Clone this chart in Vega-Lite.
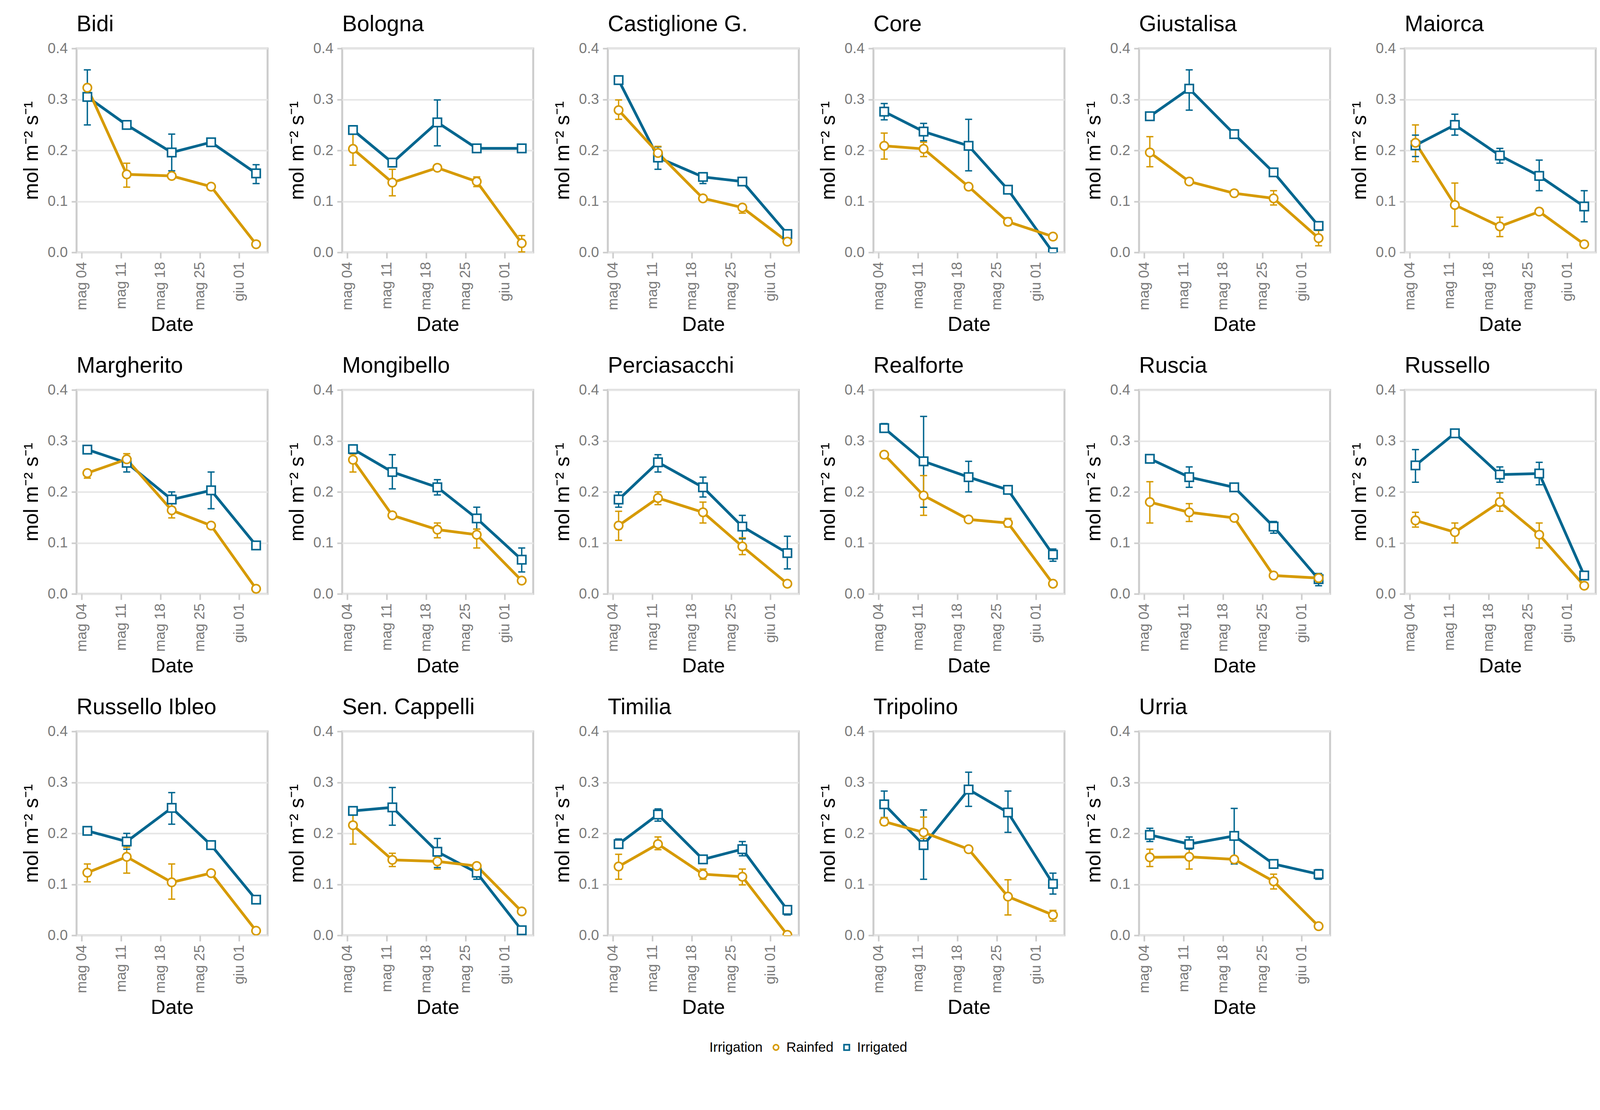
{
  "$schema": "https://vega.github.io/schema/vega-lite/v6.json",
  "background": "white",
  "padding": {"left": 52, "top": 31, "right": 20, "bottom": 12},
  "data": {"values": [
    {"c":"Bidi","t":"Irrigated","d":"2023-05-05","v":0.305,"lo":0.250,"hi":0.358},
    {"c":"Bidi","t":"Irrigated","d":"2023-05-12","v":0.250,"lo":0.246,"hi":0.254},
    {"c":"Bidi","t":"Irrigated","d":"2023-05-20","v":0.196,"lo":0.160,"hi":0.232},
    {"c":"Bidi","t":"Irrigated","d":"2023-05-27","v":0.216,"lo":0.212,"hi":0.220},
    {"c":"Bidi","t":"Irrigated","d":"2023-06-04","v":0.155,"lo":0.135,"hi":0.172},
    {"c":"Bidi","t":"Rainfed","d":"2023-05-05","v":0.323,"lo":0.319,"hi":0.327},
    {"c":"Bidi","t":"Rainfed","d":"2023-05-12","v":0.153,"lo":0.128,"hi":0.175},
    {"c":"Bidi","t":"Rainfed","d":"2023-05-20","v":0.150,"lo":0.146,"hi":0.154},
    {"c":"Bidi","t":"Rainfed","d":"2023-05-27","v":0.129,"lo":0.126,"hi":0.132},
    {"c":"Bidi","t":"Rainfed","d":"2023-06-04","v":0.016,"lo":0.013,"hi":0.019},

    {"c":"Bologna","t":"Irrigated","d":"2023-05-05","v":0.240,"lo":0.236,"hi":0.244},
    {"c":"Bologna","t":"Irrigated","d":"2023-05-12","v":0.176,"lo":0.172,"hi":0.180},
    {"c":"Bologna","t":"Irrigated","d":"2023-05-20","v":0.255,"lo":0.209,"hi":0.299},
    {"c":"Bologna","t":"Irrigated","d":"2023-05-27","v":0.204,"lo":0.201,"hi":0.207},
    {"c":"Bologna","t":"Irrigated","d":"2023-06-04","v":0.204,"lo":0.201,"hi":0.207},
    {"c":"Bologna","t":"Rainfed","d":"2023-05-05","v":0.203,"lo":0.171,"hi":0.233},
    {"c":"Bologna","t":"Rainfed","d":"2023-05-12","v":0.137,"lo":0.111,"hi":0.163},
    {"c":"Bologna","t":"Rainfed","d":"2023-05-20","v":0.166,"lo":0.163,"hi":0.169},
    {"c":"Bologna","t":"Rainfed","d":"2023-05-27","v":0.139,"lo":0.129,"hi":0.148},
    {"c":"Bologna","t":"Rainfed","d":"2023-06-04","v":0.018,"lo":0.001,"hi":0.033},

    {"c":"Castiglione G.","t":"Irrigated","d":"2023-05-05","v":0.338,"lo":0.335,"hi":0.341},
    {"c":"Castiglione G.","t":"Irrigated","d":"2023-05-12","v":0.186,"lo":0.163,"hi":0.207},
    {"c":"Castiglione G.","t":"Irrigated","d":"2023-05-20","v":0.148,"lo":0.135,"hi":0.156},
    {"c":"Castiglione G.","t":"Irrigated","d":"2023-05-27","v":0.139,"lo":0.136,"hi":0.142},
    {"c":"Castiglione G.","t":"Irrigated","d":"2023-06-04","v":0.036,"lo":0.033,"hi":0.039},
    {"c":"Castiglione G.","t":"Rainfed","d":"2023-05-05","v":0.279,"lo":0.261,"hi":0.299},
    {"c":"Castiglione G.","t":"Rainfed","d":"2023-05-12","v":0.195,"lo":0.188,"hi":0.208},
    {"c":"Castiglione G.","t":"Rainfed","d":"2023-05-20","v":0.106,"lo":0.103,"hi":0.109},
    {"c":"Castiglione G.","t":"Rainfed","d":"2023-05-27","v":0.088,"lo":0.077,"hi":0.094},
    {"c":"Castiglione G.","t":"Rainfed","d":"2023-06-04","v":0.021,"lo":0.018,"hi":0.024},

    {"c":"Core","t":"Irrigated","d":"2023-05-05","v":0.276,"lo":0.260,"hi":0.292},
    {"c":"Core","t":"Irrigated","d":"2023-05-12","v":0.237,"lo":0.219,"hi":0.253},
    {"c":"Core","t":"Irrigated","d":"2023-05-20","v":0.209,"lo":0.160,"hi":0.261},
    {"c":"Core","t":"Irrigated","d":"2023-05-27","v":0.123,"lo":0.120,"hi":0.126},
    {"c":"Core","t":"Irrigated","d":"2023-06-04","v":0.000,"lo":0.000,"hi":0.003},
    {"c":"Core","t":"Rainfed","d":"2023-05-05","v":0.209,"lo":0.183,"hi":0.234},
    {"c":"Core","t":"Rainfed","d":"2023-05-12","v":0.203,"lo":0.188,"hi":0.216},
    {"c":"Core","t":"Rainfed","d":"2023-05-20","v":0.129,"lo":0.126,"hi":0.132},
    {"c":"Core","t":"Rainfed","d":"2023-05-27","v":0.060,"lo":0.053,"hi":0.068},
    {"c":"Core","t":"Rainfed","d":"2023-06-04","v":0.031,"lo":0.028,"hi":0.034},

    {"c":"Giustalisa","t":"Irrigated","d":"2023-05-05","v":0.267,"lo":0.264,"hi":0.270},
    {"c":"Giustalisa","t":"Irrigated","d":"2023-05-12","v":0.321,"lo":0.279,"hi":0.358},
    {"c":"Giustalisa","t":"Irrigated","d":"2023-05-20","v":0.232,"lo":0.228,"hi":0.236},
    {"c":"Giustalisa","t":"Irrigated","d":"2023-05-27","v":0.157,"lo":0.154,"hi":0.160},
    {"c":"Giustalisa","t":"Irrigated","d":"2023-06-04","v":0.052,"lo":0.049,"hi":0.055},
    {"c":"Giustalisa","t":"Rainfed","d":"2023-05-05","v":0.196,"lo":0.168,"hi":0.227},
    {"c":"Giustalisa","t":"Rainfed","d":"2023-05-12","v":0.139,"lo":0.136,"hi":0.142},
    {"c":"Giustalisa","t":"Rainfed","d":"2023-05-20","v":0.116,"lo":0.113,"hi":0.119},
    {"c":"Giustalisa","t":"Rainfed","d":"2023-05-27","v":0.106,"lo":0.093,"hi":0.121},
    {"c":"Giustalisa","t":"Rainfed","d":"2023-06-04","v":0.028,"lo":0.013,"hi":0.043},

    {"c":"Maiorca","t":"Irrigated","d":"2023-05-05","v":0.210,"lo":0.188,"hi":0.230},
    {"c":"Maiorca","t":"Irrigated","d":"2023-05-12","v":0.250,"lo":0.230,"hi":0.271},
    {"c":"Maiorca","t":"Irrigated","d":"2023-05-20","v":0.190,"lo":0.175,"hi":0.204},
    {"c":"Maiorca","t":"Irrigated","d":"2023-05-27","v":0.150,"lo":0.121,"hi":0.181},
    {"c":"Maiorca","t":"Irrigated","d":"2023-06-04","v":0.090,"lo":0.060,"hi":0.121},
    {"c":"Maiorca","t":"Rainfed","d":"2023-05-05","v":0.215,"lo":0.178,"hi":0.250},
    {"c":"Maiorca","t":"Rainfed","d":"2023-05-12","v":0.093,"lo":0.051,"hi":0.136},
    {"c":"Maiorca","t":"Rainfed","d":"2023-05-20","v":0.051,"lo":0.031,"hi":0.069},
    {"c":"Maiorca","t":"Rainfed","d":"2023-05-27","v":0.080,"lo":0.077,"hi":0.083},
    {"c":"Maiorca","t":"Rainfed","d":"2023-06-04","v":0.016,"lo":0.013,"hi":0.019},

    {"c":"Margherito","t":"Irrigated","d":"2023-05-05","v":0.283,"lo":0.280,"hi":0.286},
    {"c":"Margherito","t":"Irrigated","d":"2023-05-12","v":0.257,"lo":0.239,"hi":0.270},
    {"c":"Margherito","t":"Irrigated","d":"2023-05-20","v":0.185,"lo":0.170,"hi":0.200},
    {"c":"Margherito","t":"Irrigated","d":"2023-05-27","v":0.203,"lo":0.167,"hi":0.239},
    {"c":"Margherito","t":"Irrigated","d":"2023-06-04","v":0.095,"lo":0.092,"hi":0.098},
    {"c":"Margherito","t":"Rainfed","d":"2023-05-05","v":0.237,"lo":0.227,"hi":0.243},
    {"c":"Margherito","t":"Rainfed","d":"2023-05-12","v":0.264,"lo":0.254,"hi":0.275},
    {"c":"Margherito","t":"Rainfed","d":"2023-05-20","v":0.164,"lo":0.149,"hi":0.177},
    {"c":"Margherito","t":"Rainfed","d":"2023-05-27","v":0.134,"lo":0.131,"hi":0.137},
    {"c":"Margherito","t":"Rainfed","d":"2023-06-04","v":0.010,"lo":0.007,"hi":0.013},

    {"c":"Mongibello","t":"Irrigated","d":"2023-05-05","v":0.284,"lo":0.281,"hi":0.287},
    {"c":"Mongibello","t":"Irrigated","d":"2023-05-12","v":0.239,"lo":0.206,"hi":0.273},
    {"c":"Mongibello","t":"Irrigated","d":"2023-05-20","v":0.209,"lo":0.194,"hi":0.224},
    {"c":"Mongibello","t":"Irrigated","d":"2023-05-27","v":0.148,"lo":0.127,"hi":0.170},
    {"c":"Mongibello","t":"Irrigated","d":"2023-06-04","v":0.067,"lo":0.043,"hi":0.090},
    {"c":"Mongibello","t":"Rainfed","d":"2023-05-05","v":0.263,"lo":0.239,"hi":0.274},
    {"c":"Mongibello","t":"Rainfed","d":"2023-05-12","v":0.154,"lo":0.151,"hi":0.157},
    {"c":"Mongibello","t":"Rainfed","d":"2023-05-20","v":0.126,"lo":0.110,"hi":0.139},
    {"c":"Mongibello","t":"Rainfed","d":"2023-05-27","v":0.116,"lo":0.090,"hi":0.127},
    {"c":"Mongibello","t":"Rainfed","d":"2023-06-04","v":0.026,"lo":0.023,"hi":0.029},

    {"c":"Perciasacchi","t":"Irrigated","d":"2023-05-05","v":0.185,"lo":0.170,"hi":0.200},
    {"c":"Perciasacchi","t":"Irrigated","d":"2023-05-12","v":0.258,"lo":0.239,"hi":0.273},
    {"c":"Perciasacchi","t":"Irrigated","d":"2023-05-20","v":0.209,"lo":0.190,"hi":0.229},
    {"c":"Perciasacchi","t":"Irrigated","d":"2023-05-27","v":0.132,"lo":0.108,"hi":0.154},
    {"c":"Perciasacchi","t":"Irrigated","d":"2023-06-04","v":0.080,"lo":0.049,"hi":0.113},
    {"c":"Perciasacchi","t":"Rainfed","d":"2023-05-05","v":0.134,"lo":0.105,"hi":0.162},
    {"c":"Perciasacchi","t":"Rainfed","d":"2023-05-12","v":0.188,"lo":0.175,"hi":0.200},
    {"c":"Perciasacchi","t":"Rainfed","d":"2023-05-20","v":0.160,"lo":0.139,"hi":0.180},
    {"c":"Perciasacchi","t":"Rainfed","d":"2023-05-27","v":0.093,"lo":0.077,"hi":0.110},
    {"c":"Perciasacchi","t":"Rainfed","d":"2023-06-04","v":0.020,"lo":0.017,"hi":0.023},

    {"c":"Realforte","t":"Irrigated","d":"2023-05-05","v":0.325,"lo":0.317,"hi":0.334},
    {"c":"Realforte","t":"Irrigated","d":"2023-05-12","v":0.260,"lo":0.170,"hi":0.348},
    {"c":"Realforte","t":"Irrigated","d":"2023-05-20","v":0.229,"lo":0.200,"hi":0.260},
    {"c":"Realforte","t":"Irrigated","d":"2023-05-27","v":0.204,"lo":0.201,"hi":0.207},
    {"c":"Realforte","t":"Irrigated","d":"2023-06-04","v":0.077,"lo":0.064,"hi":0.088},
    {"c":"Realforte","t":"Rainfed","d":"2023-05-05","v":0.273,"lo":0.270,"hi":0.276},
    {"c":"Realforte","t":"Rainfed","d":"2023-05-12","v":0.193,"lo":0.154,"hi":0.232},
    {"c":"Realforte","t":"Rainfed","d":"2023-05-20","v":0.146,"lo":0.143,"hi":0.149},
    {"c":"Realforte","t":"Rainfed","d":"2023-05-27","v":0.139,"lo":0.131,"hi":0.148},
    {"c":"Realforte","t":"Rainfed","d":"2023-06-04","v":0.020,"lo":0.017,"hi":0.023},

    {"c":"Ruscia","t":"Irrigated","d":"2023-05-05","v":0.265,"lo":0.262,"hi":0.268},
    {"c":"Ruscia","t":"Irrigated","d":"2023-05-12","v":0.229,"lo":0.209,"hi":0.249},
    {"c":"Ruscia","t":"Irrigated","d":"2023-05-20","v":0.209,"lo":0.205,"hi":0.213},
    {"c":"Ruscia","t":"Irrigated","d":"2023-05-27","v":0.132,"lo":0.119,"hi":0.142},
    {"c":"Ruscia","t":"Irrigated","d":"2023-06-04","v":0.029,"lo":0.016,"hi":0.040},
    {"c":"Ruscia","t":"Rainfed","d":"2023-05-05","v":0.180,"lo":0.139,"hi":0.220},
    {"c":"Ruscia","t":"Rainfed","d":"2023-05-12","v":0.160,"lo":0.142,"hi":0.177},
    {"c":"Ruscia","t":"Rainfed","d":"2023-05-20","v":0.149,"lo":0.146,"hi":0.152},
    {"c":"Ruscia","t":"Rainfed","d":"2023-05-27","v":0.036,"lo":0.033,"hi":0.039},
    {"c":"Ruscia","t":"Rainfed","d":"2023-06-04","v":0.031,"lo":0.028,"hi":0.034},

    {"c":"Russello","t":"Irrigated","d":"2023-05-05","v":0.252,"lo":0.219,"hi":0.283},
    {"c":"Russello","t":"Irrigated","d":"2023-05-12","v":0.315,"lo":0.312,"hi":0.318},
    {"c":"Russello","t":"Irrigated","d":"2023-05-20","v":0.234,"lo":0.219,"hi":0.249},
    {"c":"Russello","t":"Irrigated","d":"2023-05-27","v":0.236,"lo":0.214,"hi":0.258},
    {"c":"Russello","t":"Irrigated","d":"2023-06-04","v":0.036,"lo":0.033,"hi":0.039},
    {"c":"Russello","t":"Rainfed","d":"2023-05-05","v":0.144,"lo":0.131,"hi":0.160},
    {"c":"Russello","t":"Rainfed","d":"2023-05-12","v":0.121,"lo":0.100,"hi":0.139},
    {"c":"Russello","t":"Rainfed","d":"2023-05-20","v":0.180,"lo":0.162,"hi":0.198},
    {"c":"Russello","t":"Rainfed","d":"2023-05-27","v":0.116,"lo":0.090,"hi":0.139},
    {"c":"Russello","t":"Rainfed","d":"2023-06-04","v":0.016,"lo":0.013,"hi":0.019},

    {"c":"Russello Ibleo","t":"Irrigated","d":"2023-05-05","v":0.205,"lo":0.202,"hi":0.208},
    {"c":"Russello Ibleo","t":"Irrigated","d":"2023-05-12","v":0.184,"lo":0.169,"hi":0.200},
    {"c":"Russello Ibleo","t":"Irrigated","d":"2023-05-20","v":0.250,"lo":0.218,"hi":0.280},
    {"c":"Russello Ibleo","t":"Irrigated","d":"2023-05-27","v":0.177,"lo":0.174,"hi":0.180},
    {"c":"Russello Ibleo","t":"Irrigated","d":"2023-06-04","v":0.070,"lo":0.066,"hi":0.074},
    {"c":"Russello Ibleo","t":"Rainfed","d":"2023-05-05","v":0.123,"lo":0.105,"hi":0.140},
    {"c":"Russello Ibleo","t":"Rainfed","d":"2023-05-12","v":0.154,"lo":0.122,"hi":0.173},
    {"c":"Russello Ibleo","t":"Rainfed","d":"2023-05-20","v":0.104,"lo":0.071,"hi":0.140},
    {"c":"Russello Ibleo","t":"Rainfed","d":"2023-05-27","v":0.122,"lo":0.118,"hi":0.126},
    {"c":"Russello Ibleo","t":"Rainfed","d":"2023-06-04","v":0.009,"lo":0.006,"hi":0.012},

    {"c":"Sen. Cappelli","t":"Irrigated","d":"2023-05-05","v":0.244,"lo":0.241,"hi":0.247},
    {"c":"Sen. Cappelli","t":"Irrigated","d":"2023-05-12","v":0.251,"lo":0.216,"hi":0.290},
    {"c":"Sen. Cappelli","t":"Irrigated","d":"2023-05-20","v":0.164,"lo":0.133,"hi":0.190},
    {"c":"Sen. Cappelli","t":"Irrigated","d":"2023-05-27","v":0.123,"lo":0.110,"hi":0.134},
    {"c":"Sen. Cappelli","t":"Irrigated","d":"2023-06-04","v":0.010,"lo":0.007,"hi":0.013},
    {"c":"Sen. Cappelli","t":"Rainfed","d":"2023-05-05","v":0.216,"lo":0.179,"hi":0.237},
    {"c":"Sen. Cappelli","t":"Rainfed","d":"2023-05-12","v":0.148,"lo":0.135,"hi":0.161},
    {"c":"Sen. Cappelli","t":"Rainfed","d":"2023-05-20","v":0.145,"lo":0.130,"hi":0.155},
    {"c":"Sen. Cappelli","t":"Rainfed","d":"2023-05-27","v":0.136,"lo":0.133,"hi":0.139},
    {"c":"Sen. Cappelli","t":"Rainfed","d":"2023-06-04","v":0.047,"lo":0.044,"hi":0.050},

    {"c":"Timilia","t":"Irrigated","d":"2023-05-05","v":0.179,"lo":0.172,"hi":0.189},
    {"c":"Timilia","t":"Irrigated","d":"2023-05-12","v":0.237,"lo":0.224,"hi":0.248},
    {"c":"Timilia","t":"Irrigated","d":"2023-05-20","v":0.149,"lo":0.146,"hi":0.152},
    {"c":"Timilia","t":"Irrigated","d":"2023-05-27","v":0.169,"lo":0.156,"hi":0.184},
    {"c":"Timilia","t":"Irrigated","d":"2023-06-04","v":0.050,"lo":0.040,"hi":0.058},
    {"c":"Timilia","t":"Rainfed","d":"2023-05-05","v":0.135,"lo":0.110,"hi":0.159},
    {"c":"Timilia","t":"Rainfed","d":"2023-05-12","v":0.179,"lo":0.168,"hi":0.193},
    {"c":"Timilia","t":"Rainfed","d":"2023-05-20","v":0.120,"lo":0.110,"hi":0.130},
    {"c":"Timilia","t":"Rainfed","d":"2023-05-27","v":0.115,"lo":0.099,"hi":0.130},
    {"c":"Timilia","t":"Rainfed","d":"2023-06-04","v":0.001,"lo":0.000,"hi":0.004},

    {"c":"Tripolino","t":"Irrigated","d":"2023-05-05","v":0.257,"lo":0.231,"hi":0.283},
    {"c":"Tripolino","t":"Irrigated","d":"2023-05-12","v":0.177,"lo":0.110,"hi":0.246},
    {"c":"Tripolino","t":"Irrigated","d":"2023-05-20","v":0.286,"lo":0.253,"hi":0.320},
    {"c":"Tripolino","t":"Irrigated","d":"2023-05-27","v":0.241,"lo":0.202,"hi":0.283},
    {"c":"Tripolino","t":"Irrigated","d":"2023-06-04","v":0.101,"lo":0.081,"hi":0.122},
    {"c":"Tripolino","t":"Rainfed","d":"2023-05-05","v":0.223,"lo":0.216,"hi":0.231},
    {"c":"Tripolino","t":"Rainfed","d":"2023-05-12","v":0.202,"lo":0.190,"hi":0.232},
    {"c":"Tripolino","t":"Rainfed","d":"2023-05-20","v":0.169,"lo":0.166,"hi":0.172},
    {"c":"Tripolino","t":"Rainfed","d":"2023-05-27","v":0.076,"lo":0.040,"hi":0.109},
    {"c":"Tripolino","t":"Rainfed","d":"2023-06-04","v":0.040,"lo":0.028,"hi":0.049},

    {"c":"Urria","t":"Irrigated","d":"2023-05-05","v":0.197,"lo":0.184,"hi":0.210},
    {"c":"Urria","t":"Irrigated","d":"2023-05-12","v":0.179,"lo":0.169,"hi":0.193},
    {"c":"Urria","t":"Irrigated","d":"2023-05-20","v":0.195,"lo":0.140,"hi":0.249},
    {"c":"Urria","t":"Irrigated","d":"2023-05-27","v":0.140,"lo":0.137,"hi":0.143},
    {"c":"Urria","t":"Irrigated","d":"2023-06-04","v":0.120,"lo":0.110,"hi":0.129},
    {"c":"Urria","t":"Rainfed","d":"2023-05-05","v":0.153,"lo":0.135,"hi":0.169},
    {"c":"Urria","t":"Rainfed","d":"2023-05-12","v":0.154,"lo":0.130,"hi":0.171},
    {"c":"Urria","t":"Rainfed","d":"2023-05-20","v":0.149,"lo":0.146,"hi":0.152},
    {"c":"Urria","t":"Rainfed","d":"2023-05-27","v":0.106,"lo":0.091,"hi":0.120},
    {"c":"Urria","t":"Rainfed","d":"2023-06-04","v":0.018,"lo":0.015,"hi":0.021}
  ]},
  "facet": {
    "field": "c", "type": "nominal", "title": null,
    "header": {"labelAnchor": "start", "labelFontSize": 57, "labelFont": "Liberation Sans", "labelColor": "black", "labelPadding": 13}
  },
  "columns": 6,
  "spacing": {"row": 46, "column": 44},
  "resolve": {"axis": {"x": "independent", "y": "independent"}},
  "spec": {
    "width": 489,
    "height": 522,
    "encoding": {
      "x": {
        "field": "d", "type": "temporal",
        "scale": {"domain": [{"year": 2023, "month": 5, "date": 3, "hours": 2, "utc": true}, {"year": 2023, "month": 6, "date": 6, "hours": 1, "utc": true}]},
        "axis": {
          "title": "Date",
          "values": [
            {"year": 2023, "month": 5, "date": 4, "utc": true},
            {"year": 2023, "month": 5, "date": 11, "utc": true},
            {"year": 2023, "month": 5, "date": 18, "utc": true},
            {"year": 2023, "month": 5, "date": 25, "utc": true},
            {"year": 2023, "month": 6, "date": 1, "utc": true}
          ],
          "labelExpr": "(utcFormat(datum.value, '%m') == '05' ? 'mag ' : 'giu ') + utcFormat(datum.value, '%d')",
          "labelAngle": 270, "labelAlign": "right", "labelBaseline": "middle",
          "labelPadding": 9, "tickSize": 15, "titlePadding": 12,
          "grid": false, "domain": false, "labelFlush": false, "labelOverlap": false
        }
      }
    },
    "layer": [
      {
        "mark": {"type": "rule", "strokeWidth": 3.5},
        "encoding": {
          "y": {"field": "lo", "type": "quantitative", "scale": {"domain": [0, 0.4]},
            "axis": {"title": "mol m⁻² s⁻¹", "values": [0, 0.1, 0.2, 0.3, 0.4], "format": ".1f", "tickSize": 13, "labelPadding": 10, "titlePadding": 14, "domain": false, "grid": true}},
          "y2": {"field": "hi"},
          "stroke": {"condition": {"test": "datum.t == 'Rainfed'", "value": "#D69A00"}, "value": "#00668F"}
        }
      },
      {
        "mark": {"type": "tick", "orient": "horizontal", "size": 18, "thickness": 3.5, "opacity": 1},
        "encoding": {
          "y": {"field": "lo", "type": "quantitative"},
          "fill": {"condition": {"test": "datum.t == 'Rainfed'", "value": "#D69A00"}, "value": "#00668F"}
        }
      },
      {
        "mark": {"type": "tick", "orient": "horizontal", "size": 18, "thickness": 3.5, "opacity": 1},
        "encoding": {
          "y": {"field": "hi", "type": "quantitative"},
          "fill": {"condition": {"test": "datum.t == 'Rainfed'", "value": "#D69A00"}, "value": "#00668F"}
        }
      },
      {
        "mark": {"type": "line", "strokeWidth": 7, "clip": true},
        "encoding": {
          "y": {"field": "v", "type": "quantitative"},
          "detail": {"field": "t", "type": "nominal"},
          "stroke": {"condition": {"test": "datum.t == 'Rainfed'", "value": "#D69A00"}, "value": "#00668F"}
        }
      },
      {
        "mark": {"type": "point", "filled": false, "fill": "white", "fillOpacity": 1, "opacity": 1, "strokeWidth": 4, "size": 460, "clip": true},
        "encoding": {
          "y": {"field": "v", "type": "quantitative"},
          "color": {"field": "t", "type": "nominal", "scale": {"domain": ["Rainfed", "Irrigated"], "range": ["#D69A00", "#00668F"]},
            "legend": {"title": "Irrigation"}},
          "shape": {"field": "t", "type": "nominal", "scale": {"domain": ["Rainfed", "Irrigated"], "range": ["circle", "square"]},
            "legend": {"title": "Irrigation"}}
        }
      }
    ]
  },
  "config": {
    "font": "Liberation Sans",
    "view": {"stroke": "#CCCCCC", "strokeWidth": 5},
    "axis": {
      "labelFont": "Liberation Sans", "labelFontSize": 37, "labelColor": "#7A7A7A",
      "titleFont": "Liberation Sans", "titleFontSize": 52, "titleColor": "black", "titleFontWeight": "normal",
      "tickColor": "#CCCCCC", "tickWidth": 4,
      "gridColor": "#E6E6E6", "gridWidth": 4
    },
    "legend": {
      "orient": "bottom", "direction": "horizontal", "titleOrient": "left",
      "titleFontSize": 35, "titleFontWeight": "normal", "titleColor": "black", "titleFont": "Liberation Sans",
      "labelFontSize": 35, "labelColor": "black", "labelFont": "Liberation Sans",
      "symbolSize": 190, "symbolStrokeWidth": 4, "symbolFillColor": "white",
      "offset": 56, "columnPadding": 16, "labelOffset": 9, "titlePadding": 16,
      "layout": {"bottom": {"anchor": "middle"}}
    }
  }
}
